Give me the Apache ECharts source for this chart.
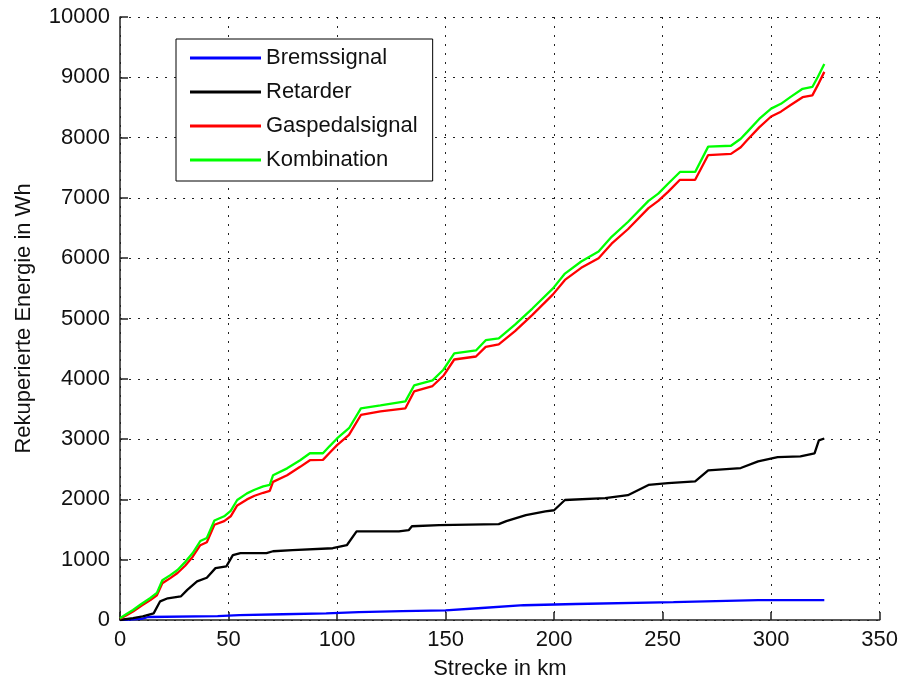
<!DOCTYPE html>
<html>
<head>
<meta charset="utf-8">
<script src="https://cdn.jsdelivr.net/npm/echarts@6/dist/echarts.min.js"></script>
<style>
  html, body { margin: 0; padding: 0; background: #fff; }
  #chart { width: 901px; height: 685px; }
</style>
</head>
<body>
<div id="chart"></div>
<script>
// series names as in the legend
const names = ['Bremssignal', 'Retarder', 'Gaspedalsignal', 'Kombination'];
const colors = ['#0000ff', '#000000', '#ff0000', '#00ff00'];

// Bremssignal
const bremsKm = [0, 10, 13, 45, 55, 75, 95, 110, 130, 150, 165, 186, 210, 255, 294, 324.5];
const bremsWh = [0, 20, 50, 65, 80, 95, 110, 130, 148, 160, 195, 245, 265, 295, 330, 330];

// Retarder
const retKm = [0, 6, 10.5, 15.5, 18.5, 22, 28, 31, 35.5, 40, 44, 49, 52, 55.5, 67.5, 70.5, 79.5, 98, 104.5, 109,
  128.5, 133, 134.5, 147, 174.5, 178, 187, 196, 200, 205, 223.5, 234, 243.5, 252.5, 265, 271, 286, 294, 303,
  313.5, 320, 322, 324.5];
const retWh = [0, 30, 60, 110, 310, 360, 390, 500, 640, 700, 860, 890, 1075, 1110, 1110, 1140, 1160, 1190, 1240, 1470,
  1470, 1490, 1555, 1575, 1590, 1640, 1740, 1800, 1820, 1990, 2020, 2070, 2240, 2270, 2300, 2480, 2520, 2630, 2700,
  2715, 2765, 2980, 3010];

// Gaspedalsignal and Kombination share the same km samples
const gasKm = [0, 3, 6, 10, 14, 17, 19.5, 23, 26.5, 30, 33.5, 37, 40, 43.5, 48, 51, 54, 58.5, 62, 66, 69, 70.5, 77, 83,
  87.5, 93.5, 96.5, 100, 105.5, 111, 120, 131.5, 135.5, 144, 149, 154, 164, 168.5, 174.5, 182, 190, 199.5, 205,
  212.5, 220.5, 226.5, 234, 243.5, 248, 252.5, 258, 265, 271, 281.5, 286, 289, 294.5, 300, 304.5, 309, 314.5,
  319, 321.5, 324.5];
const gasWh = [20, 80, 140, 240, 330, 410, 610, 690, 780, 900, 1050, 1240, 1290, 1580, 1640, 1720, 1900, 2000, 2060,
  2110, 2140, 2290, 2400, 2540, 2650, 2655, 2770, 2900, 3070, 3400, 3460, 3510, 3790, 3880, 4050, 4320, 4370,
  4530, 4570, 4790, 5060, 5400, 5640, 5840, 6000, 6240, 6480, 6830, 6950, 7100, 7300, 7300, 7710, 7730, 7840,
  7960, 8170, 8350, 8430, 8540, 8670, 8700, 8870, 9090];
const kombWh = [30, 100, 165, 270, 365, 450, 660, 740, 830, 960, 1110, 1310, 1360, 1650, 1720, 1810, 1990, 2100, 2160,
  2215, 2240, 2400, 2515, 2650, 2765, 2765, 2880, 3010, 3180, 3510, 3560, 3625, 3890, 3975, 4150, 4420, 4470,
  4640, 4670, 4900, 5165, 5500, 5745, 5945, 6110, 6355, 6600, 6950, 7070, 7235, 7430, 7430, 7850, 7865, 7980,
  8095, 8310, 8480, 8560, 8675, 8810, 8840, 9005, 9220];

const zip = (xs, ys) => xs.map((x, i) => [x, ys[i]]);
const seriesData = [
  zip(bremsKm, bremsWh),
  zip(retKm, retWh),
  zip(gasKm, gasWh),
  zip(gasKm, kombWh),
];

const font = 'Arial, "Liberation Sans", sans-serif';
const dots = { color: '#222', width: 1, type: [2, 7] };
const plain = (v) => String(v); // no thousands separator

const myChart = echarts.init(document.getElementById('chart'));
const option = {
  animation: false,
  textStyle: { fontFamily: font },
  grid: { left: 120, right: 18, top: 17, bottom: 63 },
  legend: {
    data: names,
    orient: 'vertical',
    left: 176,
    top: 39,
    padding: [8, 15, 10, 14],
    itemGap: 12,
    itemWidth: 71,
    itemHeight: 3,
    icon: 'rect',
    borderColor: '#000',
    borderWidth: 1,
    backgroundColor: '#fff',
    textStyle: { fontSize: 22, color: '#111', fontFamily: font },
  },
  xAxis: {
    type: 'value',
    min: 0,
    max: 350,
    interval: 50,
    name: 'Strecke in km',
    nameLocation: 'middle',
    nameGap: 38,
    nameTextStyle: { fontSize: 22, color: '#111' },
    axisLine: { lineStyle: { color: '#222', width: 1.5 } },
    axisTick: { inside: true, length: 8, lineStyle: { color: '#222', width: 1.5 } },
    axisLabel: { fontSize: 22, color: '#111', margin: 9, formatter: plain },
    splitLine: { show: true, lineStyle: dots },
  },
  yAxis: {
    type: 'value',
    min: 0,
    max: 10000,
    interval: 1000,
    name: 'Rekuperierte Energie in Wh',
    nameLocation: 'middle',
    nameGap: 85,
    nameTextStyle: { fontSize: 22, color: '#111' },
    axisLine: { show: true, lineStyle: { color: '#222', width: 1.5 } },
    axisTick: { show: true, inside: true, length: 8, lineStyle: { color: '#222', width: 1.5 } },
    axisLabel: { fontSize: 22, color: '#111', margin: 10, formatter: plain },
    splitLine: { show: true, lineStyle: dots },
  },
  series: names.map((n, i) => ({
    name: n,
    type: 'line',
    data: seriesData[i],
    symbol: 'none',
    color: colors[i],
    lineStyle: { width: 2.3, color: colors[i] },
  })),
};
myChart.setOption(option);
</script>
</body>
</html>
